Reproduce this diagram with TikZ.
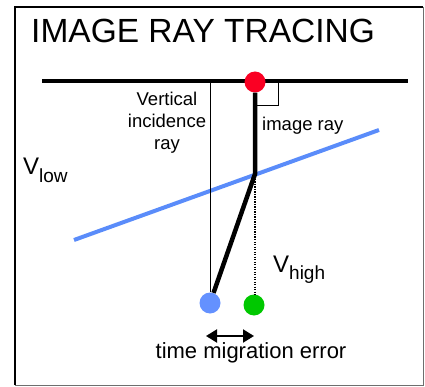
\documentclass[tikz,border=0pt]{standalone}
\usepackage{fontspec}
\setmainfont{Liberation Sans}
\usepackage{xcolor}
\usepackage{tikz}
\usetikzlibrary{calc,arrows.meta}

\definecolor{dotred}{RGB}{250,0,35}
\definecolor{dotblue}{RGB}{100,145,255}
\definecolor{dotgreen}{RGB}{0,200,0}
\definecolor{layerblue}{RGB}{90,140,250}
\definecolor{framegray}{RGB}{110,110,110}

\begin{document}
\begin{tikzpicture}[x=1pt,y=-1pt,
	dot/.style={circle,inner sep=0pt,minimum size=21pt},
	lbl/.style={inner sep=0pt,font=\fontsize{18.5}{22}\selectfont},
	ray/.style={line width=4.5pt},
	>={Triangle[length=11pt,width=13pt]}]
	\useasboundingbox (0,0) rectangle (425,387);
	
	% frame
	\draw[framegray,line width=1pt] (423,7)--(423,385)--(15,385);
	\draw[line width=2.5pt] (15,385)--(15,7)--(423,7);
	
	\node[anchor=base west,inner sep=0pt,font=\fontsize{33.5}{38}\selectfont] (title) at (31,43) {IMAGE RAY TRACING};
	
	% surface and interface
	\coordinate (sl) at (42,81);
	\coordinate (sr) at (408,81);
	\coordinate (il) at (74,240);
	\coordinate (ir) at (379,130);
	\coordinate (bend) at (255,174);
	\draw[ray] (sl)--(sr);
	\draw[layerblue,line width=4pt] (il)--(ir);
	
	\node[dot,fill=dotred] (src) at (255,82) {};
	\node[dot,fill=dotblue] (vdot) at (210,303) {};
	\node[dot,fill=dotgreen] (gdot) at (254,305) {};
	
	\draw[line width=0.8pt] (vdot.north)--(vdot.north |- sl);
	\draw[ray] (src)--(bend)--(vdot);
	\draw[line width=1.3pt,dash pattern=on 1.3pt off 1.2pt] (bend)--(bend |- gdot.north);
	\draw[line width=0.8pt] (257,105)--(278,105)--(278,83);
	
	\coordinate (el) at (206,336);
	\coordinate (er) at (254,336);
	\draw[<->,line width=2pt] (el)--(er);
	
	\node[lbl,align=center,anchor=north] (vlabel) at (167,92) {Vertical\\incidence\\ray};
	\node[lbl,anchor=base west] (imgray) at (262,131) {image ray};
	\node[anchor=base west,inner sep=0pt,font=\fontsize{24}{28}\selectfont] (vlow) at (23,175) {V\raisebox{-8pt}{\fontsize{19}{22}\selectfont low}};
	\node[anchor=base west,inner sep=0pt,font=\fontsize{24}{28}\selectfont] (vhigh) at (273,272) {V\raisebox{-7pt}{\fontsize{19}{22}\selectfont high}};
	\node[anchor=base,inner sep=0pt,font=\fontsize{22}{25}\selectfont] (tme) at (251,358) {time migration error};
\end{tikzpicture}
\end{document}
